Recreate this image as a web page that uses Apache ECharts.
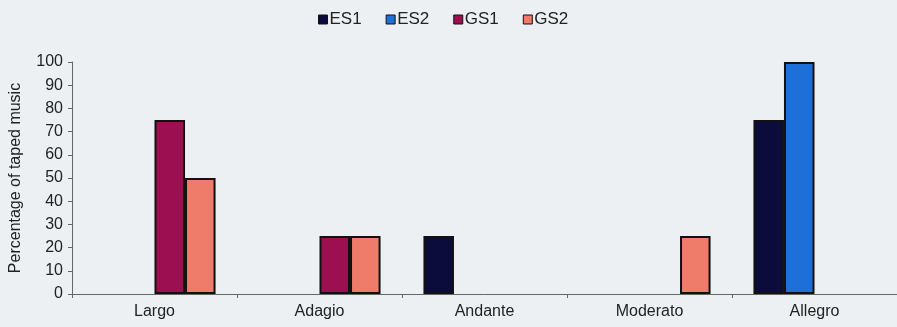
<!DOCTYPE html>
<html>
<head>
<meta charset="utf-8">
<script src="https://cdn.jsdelivr.net/npm/echarts@6/dist/echarts.min.js"></script>
<style>
  html, body { margin: 0; padding: 0; background: #edf0f2; }
  #chart { width: 897px; height: 327px; }
</style>
</head>
<body>
<div id="chart"></div>
<script>
var categories = ['Largo', 'Adagio', 'Andante', 'Moderato', 'Allegro']
var es1 = [0, 0, 25, 0, 75]
var es2 = [0, 0, 0, 0, 100]
var gs1 = [75, 25, 0, 0, 0]
var gs2 = [50, 25, 0, 25, 0]
var yTicks = [0, 10, 20, 30, 40, 50, 60, 70, 80, 90, 100]

var myChart = echarts.init(document.getElementById('chart'))

// zero values are not drawn at all in the original
function bar(name, data, color) {
  return {
    name: name,
    type: 'bar',
    data: data.map(function (v) { return v === 0 ? '-' : v }),
    barGap: 0,
    barCategoryGap: '26%',
    itemStyle: { color: color, borderColor: '#111', borderWidth: 2 },
  }
}

var option = {
  backgroundColor: '#edf0f2',
  textStyle: { fontFamily: 'Liberation Sans, Arial, sans-serif' },
  legend: {
    top: 6,
    left: 313,
    icon: 'rect',
    itemWidth: 9,
    itemHeight: 9,
    itemGap: 24,
    itemStyle: { borderColor: '#111', borderWidth: 1 },
    textStyle: { fontSize: 17, color: '#222', padding: [0, 0, 0, -3] },
    data: ['ES1', 'ES2', 'GS1', 'GS2'],
  },
  grid: { left: 72, right: 0, top: 62, bottom: 33 },
  xAxis: {
    type: 'category',
    data: categories,
    axisLine: { lineStyle: { color: '#666', width: 1 } },
    axisTick: { show: true, length: 4, lineStyle: { color: '#666' } },
    axisLabel: { color: '#222', fontSize: 16, margin: 10 },
  },
  yAxis: {
    type: 'value',
    min: yTicks[0],
    max: yTicks[yTicks.length - 1],
    interval: 10,
    name: 'Percentage of taped music',
    nameLocation: 'middle',
    nameGap: 48,
    nameTextStyle: { fontSize: 16, color: '#222' },
    axisLine: { show: true, lineStyle: { color: '#666' } },
    axisTick: { show: true, length: 4, lineStyle: { color: '#666' } },
    axisLabel: { color: '#222', fontSize: 16, margin: 9 },
    splitLine: { show: false },
  },
  series: [
    bar('ES1', es1, '#0b0c3c'),
    bar('ES2', es2, '#1f6fd8'),
    bar('GS1', gs1, '#9c1052'),
    bar('GS2', gs2, '#ef7b6b'),
  ],
}
myChart.setOption(option, true)
</script>
</body>
</html>
